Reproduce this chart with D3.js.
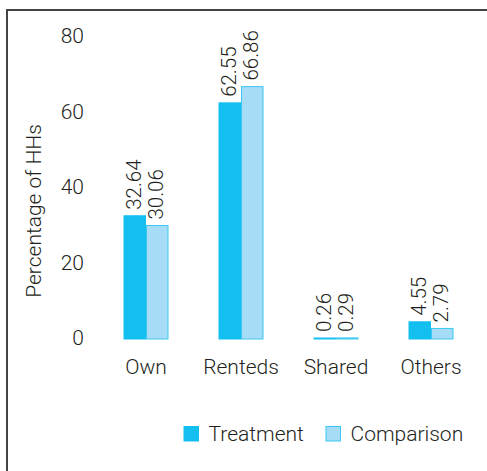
<!DOCTYPE html>
<html><head><meta charset="utf-8">
<script src="https://cdn.jsdelivr.net/npm/d3@7"></script>
<style>html,body{margin:0;padding:0;background:#fff;}svg{display:block;}</style>
</head><body>
<svg id="chart" width="487" height="471"></svg>
<script>
const categories = ["Own", "Renteds", "Shared", "Others"];
const seriesNames = ["Treatment", "Comparison"];
const treatment = [32.64, 62.55, 0.26, 4.55];
const comparison = [30.06, 66.86, 0.29, 2.79];
const yTicks = [0, 20, 40, 60, 80];

const colors = {Treatment: {fill: "#13bfef", stroke: "#13bfef"}, Comparison: {fill: "#a6dcf6", stroke: "#3cc8f0"}};
const font = "Roboto, 'Liberation Sans', Arial, sans-serif";
const fw = 300;
const fs = 21;
const textColor = "#231f20";

const svg = d3.select("#chart");
svg.append("rect").attr("width", 487).attr("height", 471).attr("fill", "#fff");
svg.append("path").attr("d", "M7,471 V10 H487").attr("fill", "none").attr("stroke", "#444").attr("stroke-width", 2);

const y = d3.scaleLinear().domain([0, 80]).range([339, 37]);
const x0 = d3.scaleBand().domain(categories).range([98.5, 478.5]).paddingInner(50 / 95).paddingOuter(25 / 95);
const x1 = d3.scaleBand().domain(seriesNames).range([0, x0.bandwidth()]);

const data = categories.map((c, i) => ({cat: c, values: [
  {name: "Treatment", v: treatment[i]}, {name: "Comparison", v: comparison[i]}]}));

const g = svg.append("g");
const groups = g.selectAll("g.grp").data(data).join("g").attr("class", "grp")
  .attr("transform", d => `translate(${x0(d.cat)},0)`);

groups.selectAll("rect").data(d => d.values).join("rect")
  .attr("x", d => x1(d.name) + 0.5)
  .attr("y", d => y(d.v))
  .attr("width", x1.bandwidth() - 1)
  .attr("height", d => Math.max(0.5, y(0) - y(d.v)))
  .attr("fill", d => colors[d.name].fill)
  .attr("stroke", d => colors[d.name].stroke)
  .attr("stroke-width", 1);

groups.selectAll("text.val").data(d => d.values).join("text").attr("class", "val")
  .attr("transform", d => `translate(${x1(d.name) + x1.bandwidth() / 2},${y(d.v) - 6}) rotate(-90)`)
  .attr("dy", "0.3em")
  .attr("text-anchor", "start")
  .attr("font-family", font).attr("font-weight", fw).attr("font-size", 20.5).attr("fill", textColor)
  .text(d => d.v.toFixed(2));

const yAxis = d3.axisLeft(y).tickValues(yTicks).tickSize(0).tickPadding(0).tickFormat(d3.format("d"));
const ya = svg.append("g").attr("transform", "translate(84,0)").call(yAxis);
ya.select(".domain").remove();
ya.selectAll("text").attr("font-family", font).attr("font-weight", fw).attr("font-size", fs).attr("fill", textColor).attr("dy", "0.27em");

const xAxis = d3.axisBottom(x0).tickSize(0).tickPadding(0);
const xa = svg.append("g").attr("transform", "translate(0,374)").call(xAxis);
xa.select(".domain").remove();
xa.selectAll("text").attr("font-family", font).attr("font-weight", fw).attr("font-size", fs).attr("fill", textColor).attr("dy", 0);

svg.append("text").attr("transform", "translate(41,211) rotate(-90)")
  .attr("text-anchor", "middle").attr("font-family", font).attr("font-weight", fw).attr("font-size", fs).attr("fill", textColor)
  .text("Percentage of HHs");

const legendX = [183.5, 325.5];
const lg = svg.selectAll("g.leg").data(seriesNames).join("g").attr("class", "leg")
  .attr("transform", (d, i) => `translate(${legendX[i]},426)`);
lg.append("rect").attr("x", 0.5).attr("y", 0.5).attr("width", 14.5).attr("height", 14.5)
  .attr("fill", d => colors[d].fill).attr("stroke", d => colors[d].stroke);
lg.append("text").attr("x", 25).attr("y", 14.5).attr("font-family", font).attr("font-weight", fw).attr("font-size", fs).attr("fill", textColor)
  .text(d => d);
</script>
</body></html>
